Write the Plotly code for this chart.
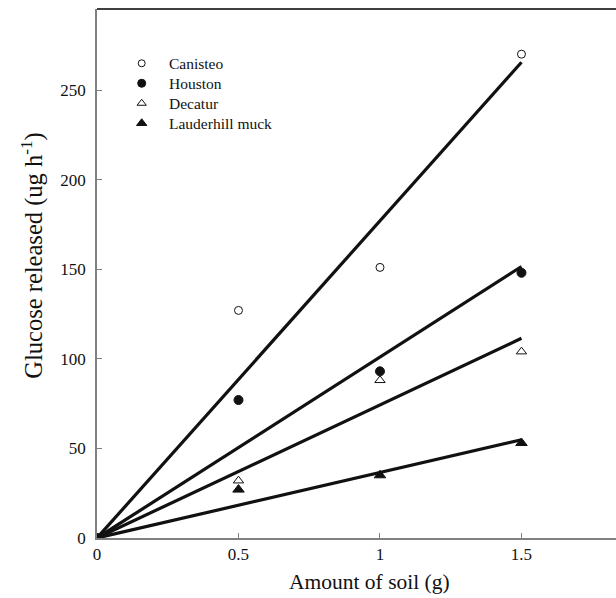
import numpy as np
import plotly.graph_objects as go

soil = [0, 0.5, 1, 1.5]
canisteo = [0, 127, 151, 270]
houston = [0, 77, 93, 148]
decatur = [0, 32, 88, 104]
lauderhill = [0, 27, 35, 53]

series_names = ["Canisteo", "Houston", "Decatur", "Lauderhill muck"]
series_values = [canisteo, houston, decatur, lauderhill]
symbols = ["circle-open", "circle", "triangle-up-open", "triangle-up"]
sizes = [8, 9, 9, 10]

FONT = "Liberation Serif, Times New Roman, serif"
INK = "#111111"
fig = go.Figure()

x = np.array(soil, dtype=float)
# least-squares regression lines through the origin
for vals in series_values:
    y = np.array(vals, dtype=float)
    slope = (x * y).sum() / (x * x).sum()
    xl = np.array([0.0, x.max()])
    fig.add_trace(go.Scatter(x=xl, y=slope * xl, mode="lines",
                             line=dict(color=INK, width=3.2),
                             showlegend=False, hoverinfo="skip"))

for name, vals, sym, sz in zip(series_names, series_values, symbols, sizes):
    fig.add_trace(go.Scatter(x=soil, y=vals, mode="markers", name=name,
                             showlegend=False,
                             marker=dict(symbol=sym, size=sz, color=INK,
                                         line=dict(color=INK, width=1))))

# custom legend (markers on an overlay axis in paper-like units, text as annotations)
LEG_MX, LEG_TX, LEG_Y0, LEG_DY = 0.0861, 0.1349, 0.8974, 0.0378
annotations = []
for i, (name, sym, sz) in enumerate(zip(series_names, symbols, sizes)):
    ly = LEG_Y0 - i * LEG_DY
    fig.add_trace(go.Scatter(x=[LEG_MX], y=[ly], xaxis="x2", yaxis="y2",
                             mode="markers", showlegend=False, hoverinfo="skip",
                             marker=dict(symbol=sym, size=sz - 1, color=INK,
                                         line=dict(color=INK, width=1))))
    annotations.append(dict(x=LEG_TX, y=ly, xref="paper", yref="paper",
                            text=name, showarrow=False, xanchor="left",
                            yanchor="middle",
                            font=dict(family=FONT, size=15.5, color=INK)))

# axis titles
annotations.append(dict(x=0.526, y=-0.083, xref="paper", yref="paper",
                        text="Amount of soil (g)", showarrow=False,
                        xanchor="center", yanchor="middle",
                        font=dict(family=FONT, size=21.5, color=INK)))
annotations.append(dict(x=-0.126, y=0.533, xref="paper", yref="paper",
                        text="Glucose released (ug h<sup>-1</sup>)", showarrow=False,
                        textangle=-90, xanchor="center", yanchor="middle",
                        font=dict(family=FONT, size=24.5, color=INK)))

fig.update_layout(
    width=616, height=598,
    margin=dict(l=97, r=0, t=9, b=60),
    paper_bgcolor="white", plot_bgcolor="white",
    font=dict(family=FONT, color=INK, size=17),
    showlegend=False,
    xaxis=dict(range=[0, 1.834], tickvals=[0, 0.5, 1, 1.5],
               ticktext=["0", "0.5", "1", "1.5"],
               showgrid=False, zeroline=False, showline=True,
               linecolor="#808080", linewidth=1.5,
               ticks="inside", ticklen=5, tickcolor="#808080"),
    yaxis=dict(range=[0, 295.2], tickvals=[0, 50, 100, 150, 200, 250],
               showgrid=False, zeroline=False, showline=True,
               linecolor="#808080", linewidth=1.5,
               ticks="inside", ticklen=5, tickcolor="#808080",
               ticklabelstandoff=6),
    xaxis2=dict(overlaying="x", range=[0, 1], visible=False, fixedrange=True),
    yaxis2=dict(overlaying="y", range=[0, 1], visible=False, fixedrange=True),
    annotations=annotations,
    shapes=[dict(type="line", xref="paper", yref="paper", x0=0, x1=1, y0=1, y1=1,
                 line=dict(color="black", width=1.5))],
)

fig.write_html("out.html", config={"displayModeBar": False},
               post_script="document.body.style.margin='0';document.body.style.overflow='hidden';")
